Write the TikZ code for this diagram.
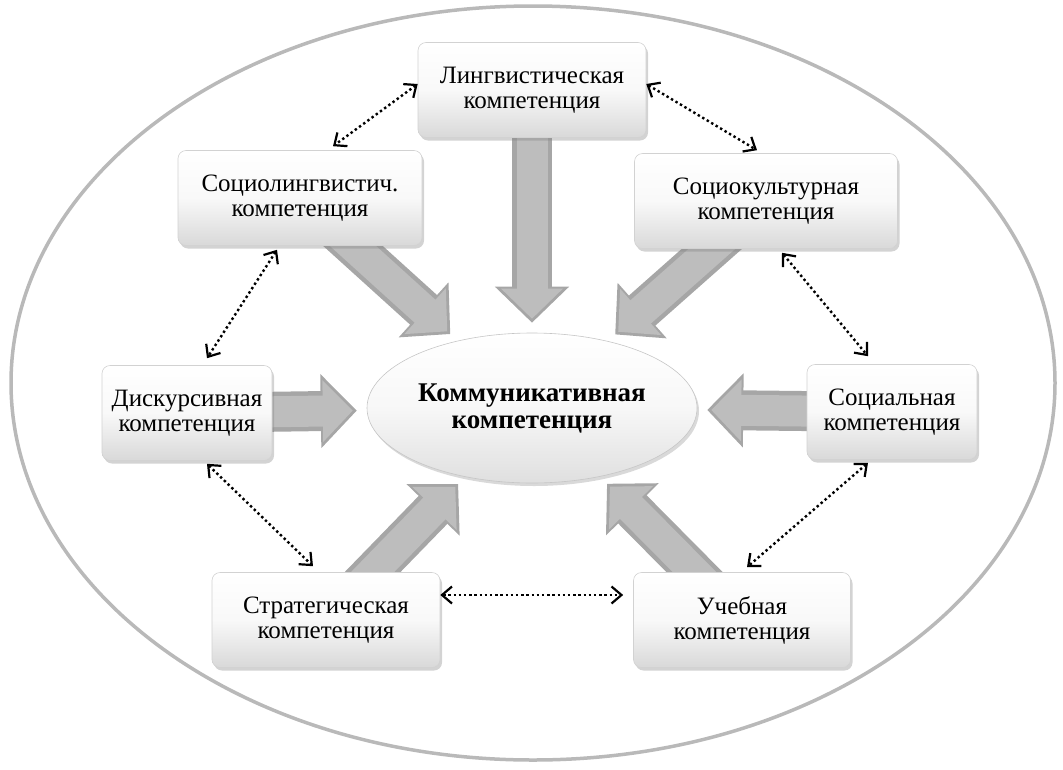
\documentclass[tikz,border=0pt]{standalone}
\usepackage{fontspec}
\setmainfont{Liberation Serif}
\usetikzlibrary{arrows.meta,shadows,calc,backgrounds,shapes.geometric}
\tikzset{
  box/.style={draw=gray!35, line width=0.6pt, rounded corners=8pt, align=center,
    top color=white, bottom color=gray!30, middle color=white!95!gray,
    minimum height=95pt, inner sep=2pt,
    font=\fontsize{25}{25}\selectfont,
    drop shadow={opacity=0.35, shadow xshift=2pt, shadow yshift=-3pt}},
  core/.style={ellipse, draw=gray!45, line width=0.6pt, align=center,
    top color=white, bottom color=gray!25, middle color=white!94!gray,
    minimum width=330pt, minimum height=150pt, inner sep=0pt,
    font=\fontsize{27}{27}\selectfont\bfseries,
    drop shadow={opacity=0.3, shadow xshift=2pt, shadow yshift=-3pt}},
  bigarr/.style={
    preaction={draw=gray!70, line width=40pt,
      -{Triangle[width=72pt,length=36pt]}, shorten >=10pt},
    line width=31pt, draw=gray!52,
    -{Triangle[width=60pt,length=30pt]}, shorten >=14pt},
  dotarr/.style={line width=2.4pt, dash pattern=on 2.4pt off 2.8pt,
    {Straight Barb[length=10pt,width=17pt,line width=2.2pt]}-{Straight Barb[length=10pt,width=17pt,line width=2.2pt]}}
}
\begin{document}
\begin{tikzpicture}[x=1pt,y=-1pt]
\useasboundingbox (0,0) rectangle (1063,769);
% outer ellipse
\draw[gray!55, line width=3.5pt] (533,383) ellipse [x radius=522, y radius=377];

% nodes
\node[core] (center) at (532,408) {Коммуникативная\\компетенция};
\node[box, minimum width=228pt] (ling) at (532,90) {Лингвистическая\\компетенция};
\node[box, minimum width=244pt] (soclin) at (300,198) {Социолингвистич.\\компетенция};
\node[box, minimum width=263pt] (soccult) at (766,201) {Социокультурная\\компетенция};
\node[box, minimum width=170pt] (disk) at (187,413) {Дискурсивная\\компетенция};
\node[box, minimum width=170pt] (social) at (892,412) {Социальная\\компетенция};
\node[box, minimum width=228pt] (strat) at (326,620) {Стратегическая\\компетенция};
\node[box, minimum width=217pt] (ucheb) at (742,620) {Учебная\\компетенция};

% big arrows
\begin{pgfonlayer}{background}
\draw[bigarr] (ling.center) -- (center);
\draw[bigarr] (soclin.center) -- (center);
\draw[bigarr] (soccult.center) -- (center);
\draw[bigarr] (disk.center) -- (center);
\draw[bigarr] (social.center) -- (center);
\draw[bigarr] (strat.center) -- (center);
\draw[bigarr] (ucheb.center) -- (center);
\end{pgfonlayer}

% dotted double arrows
\draw[dotarr] ([yshift=6pt]ling.west) -- ([xshift=33pt,yshift=4pt]soclin.north);
\draw[dotarr] ([yshift=6pt]ling.east) -- ([xshift=-9pt,yshift=3pt]soccult.north);
\draw[dotarr] ([xshift=-23pt,yshift=-4pt]soclin.south) -- ([xshift=20pt,yshift=7pt]disk.north);
\draw[dotarr] ([xshift=16pt,yshift=-4pt]soccult.south) -- ([xshift=-24pt,yshift=8pt]social.north);
\draw[dotarr] ([xshift=20pt,yshift=-3pt]disk.south) -- ([xshift=-13pt,yshift=6pt]strat.north);
\draw[dotarr] ([xshift=-24pt,yshift=-3pt]social.south) -- ([xshift=5pt,yshift=5pt]ucheb.north);
\draw[dotarr] ([yshift=25pt]strat.east) -- ([xshift=-10pt,yshift=25pt]ucheb.west);
\end{tikzpicture}
\end{document}
